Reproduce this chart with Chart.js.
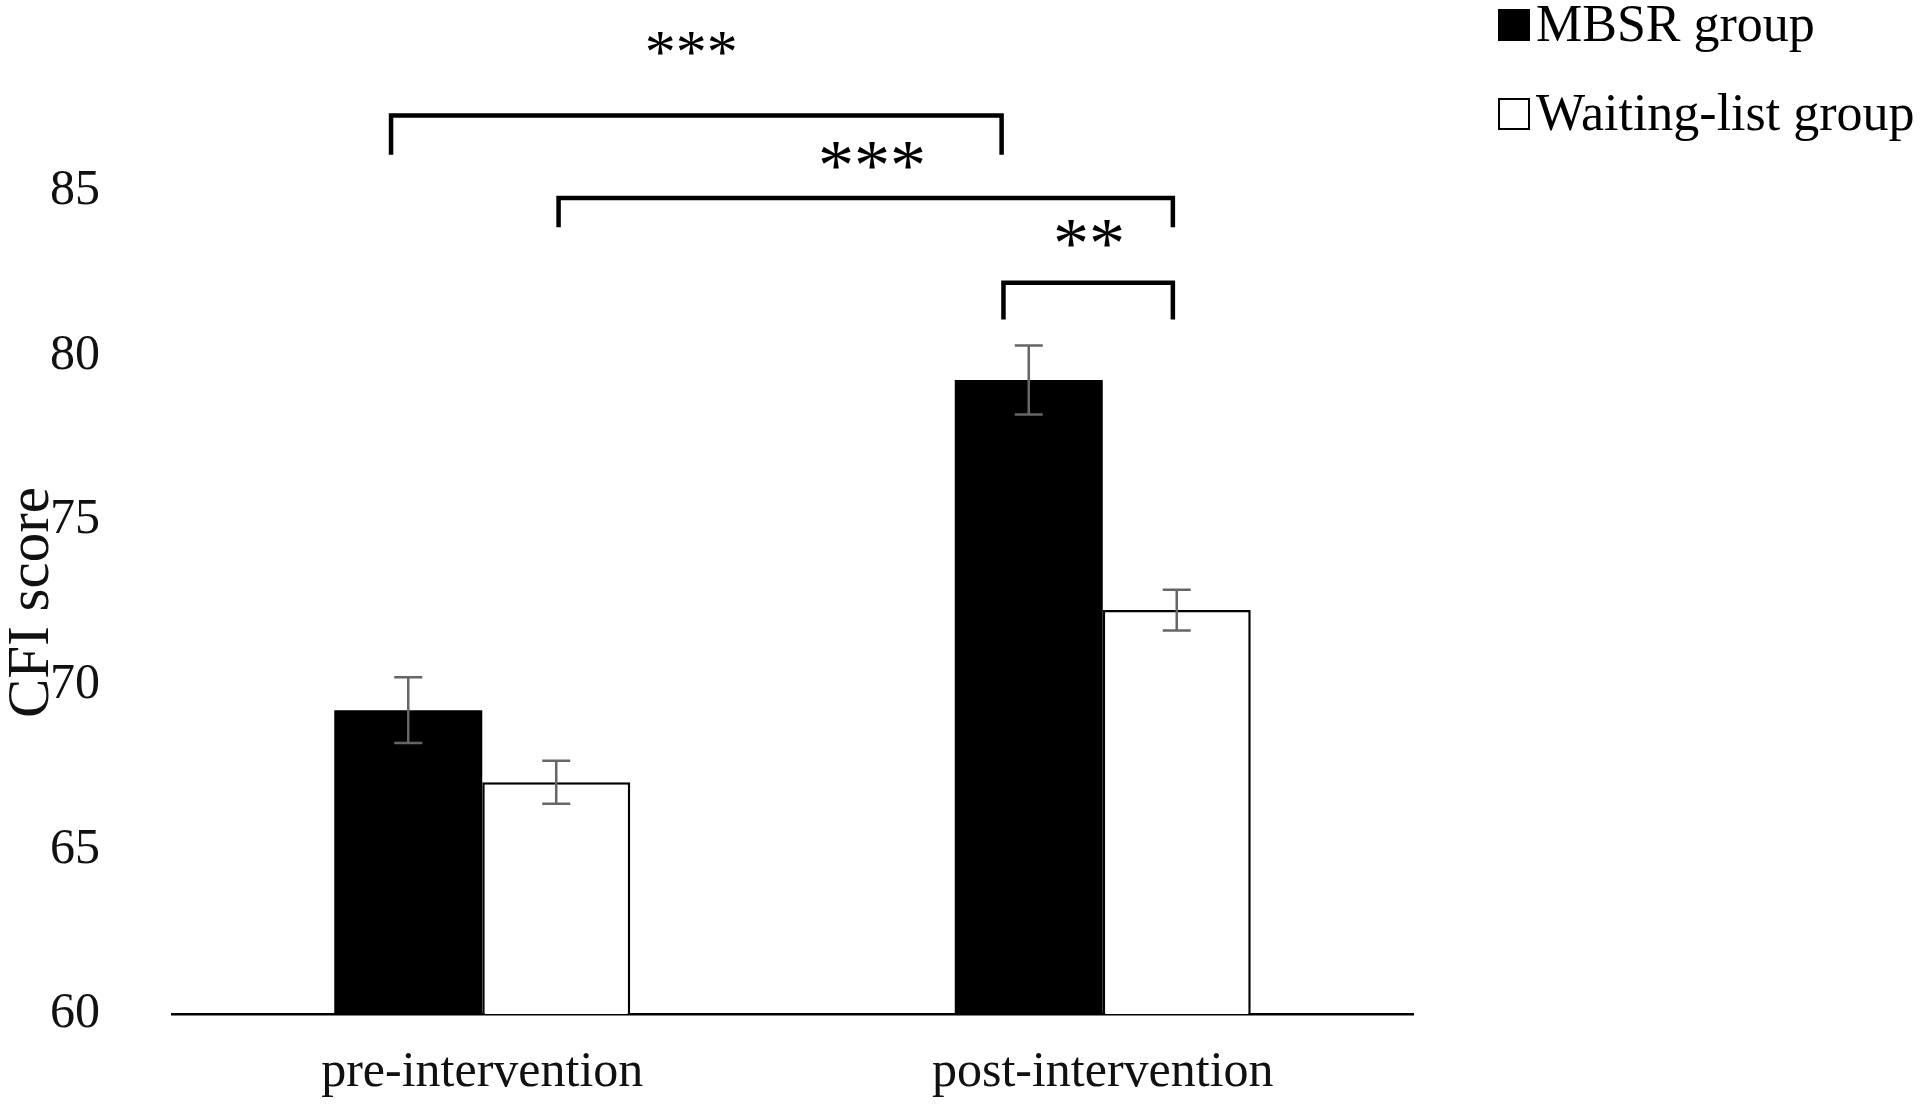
<!DOCTYPE html>
<html>
<head>
<meta charset="utf-8">
<script src="https://cdn.jsdelivr.net/npm/chart.js@4.4.0/dist/chart.umd.min.js"></script>
<style>
  html, body { margin: 0; padding: 0; background: #fff; overflow: hidden; }
  #wrap { width: 1922px; height: 1107px; }
</style>
</head>
<body>
<div id="wrap"><canvas id="chart" width="1922" height="1107"></canvas></div>
<script>
const phases = ["pre-intervention", "post-intervention"];
const groupNames = ["MBSR group", "Waiting-list group"];
const mbsrMeans = [69.23, 79.26];
const waitMeans = [67.04, 72.27];
const mbsrErr = [1.0, 1.05];
const waitErr = [0.65, 0.62];
const yTicks = [60, 65, 70, 75, 80, 85];

// significance brackets (x in category units, y in score units)
const bracketFrom = [-0.147, 0.123, 0.84];
const bracketTo = [0.837, 1.113, 1.113];
const bracketTop = [87.29, 84.79, 82.21];
const bracketEnd = [86.1, 83.9, 81.1];
const starText = ["***", "***", "**"];
const starX = [0.337, 0.628, 0.978];
const starY = [89.5, 86.1, 83.73];

const serif = '"Liberation Serif", "Times New Roman", serif';
const starSize = [62, 72, 72];

// error bars on top of each bar
const errorBars = {
  id: "errorBars",
  afterDatasetsDraw(chart) {
    const ctx = chart.ctx;
    const y = chart.scales.y;
    const errs = [mbsrErr, waitErr];
    ctx.save();
    ctx.strokeStyle = "#666";
    ctx.lineWidth = 2.5;
    chart.data.datasets.forEach((ds, i) => {
      chart.getDatasetMeta(i).data.forEach((bar, j) => {
        const v = ds.data[j];
        const top = y.getPixelForValue(v + errs[i][j]);
        const bot = y.getPixelForValue(v - errs[i][j]);
        ctx.beginPath();
        ctx.moveTo(bar.x, top); ctx.lineTo(bar.x, bot);
        ctx.moveTo(bar.x - 14, top); ctx.lineTo(bar.x + 14, top);
        ctx.moveTo(bar.x - 14, bot); ctx.lineTo(bar.x + 14, bot);
        ctx.stroke();
      });
    });
    ctx.restore();
  }
};

// brackets, stars and legend
const extras = {
  id: "extras",
  afterDraw(chart) {
    const ctx = chart.ctx;
    const x = chart.scales.x;
    const y = chart.scales.y;
    ctx.save();
    ctx.strokeStyle = "#000";
    ctx.lineWidth = 4.5;
    bracketFrom.forEach((f, i) => {
      const x0 = x.getPixelForValue(f);
      const x1 = x.getPixelForValue(bracketTo[i]);
      const yt = y.getPixelForValue(bracketTop[i]);
      const yb = y.getPixelForValue(bracketEnd[i]);
      ctx.beginPath();
      ctx.moveTo(x0, yb); ctx.lineTo(x0, yt); ctx.lineTo(x1, yt); ctx.lineTo(x1, yb);
      ctx.stroke();
    });
    ctx.fillStyle = "#000";
    ctx.textAlign = "center";
    ctx.textBaseline = "alphabetic";
    starText.forEach((s, i) => {
      ctx.font = starSize[i] + "px " + serif;
      const cx = x.getPixelForValue(starX[i]);
      const cy = y.getPixelForValue(starY[i]);
      ctx.fillText(s, cx, cy + 0.47 * starSize[i]);
    });

    // legend
    ctx.font = "52px " + serif;
    ctx.textAlign = "left";
    ctx.textBaseline = "middle";
    const rows = [25, 114];
    chart.data.datasets.forEach((ds, i) => {
      const cy = rows[i];
      ctx.fillStyle = ds.backgroundColor;
      ctx.fillRect(1499, cy - 15, 30, 30);
      ctx.lineWidth = 2;
      ctx.strokeStyle = "#000";
      ctx.strokeRect(1499, cy - 15, 30, 30);
      ctx.fillStyle = "#000";
      ctx.fillText(ds.label, 1536, cy + 2);
    });
    ctx.restore();
  }
};

new Chart(document.getElementById("chart"), {
  type: "bar",
  data: {
    labels: phases,
    datasets: [
      {
        label: groupNames[0],
        data: mbsrMeans,
        backgroundColor: "#000",
        borderWidth: 0
      },
      {
        label: groupNames[1],
        data: waitMeans,
        backgroundColor: "#fff",
        borderColor: "#000",
        borderWidth: 2.5
      }
    ]
  },
  options: {
    responsive: false,
    devicePixelRatio: 1,
    animation: false,
    layout: { padding: { top: 191, right: 509, bottom: 0, left: 0 } },
    plugins: {
      legend: { display: false },
      tooltip: { enabled: false }
    },
    datasets: {
      bar: { categoryPercentage: 0.477, barPercentage: 1 }
    },
    scales: {
      x: {
        grid: { display: false, drawTicks: false },
        border: { display: true, color: "#000", width: 2.5 },
        ticks: {
          color: "#111",
          padding: 29,
          font: { family: serif, size: 50, lineHeight: 1.2 }
        },
        afterFit(scale) { scale.height = 93; }
      },
      y: {
        min: 60,
        max: 85,
        grid: { display: false, drawTicks: false },
        border: { display: false },
        afterBuildTicks(scale) {
          scale.ticks = yTicks.map(v => ({ value: v }));
        },
        ticks: {
          color: "#111",
          padding: 72,
          font: { family: serif, size: 50 }
        },
        title: {
          display: true,
          text: "CFI score",
          color: "#111",
          padding: { top: 3, bottom: 0 },
          font: { family: serif, size: 59, lineHeight: 1 }
        },
        afterFit(scale) {
          scale.width = 172;
          // tick padding would otherwise push the plot bottom up
          scale.paddingTop = 30;
          scale.paddingBottom = 30;
        }
      }
    }
  },
  plugins: [errorBars, extras]
});
</script>
</body>
</html>
